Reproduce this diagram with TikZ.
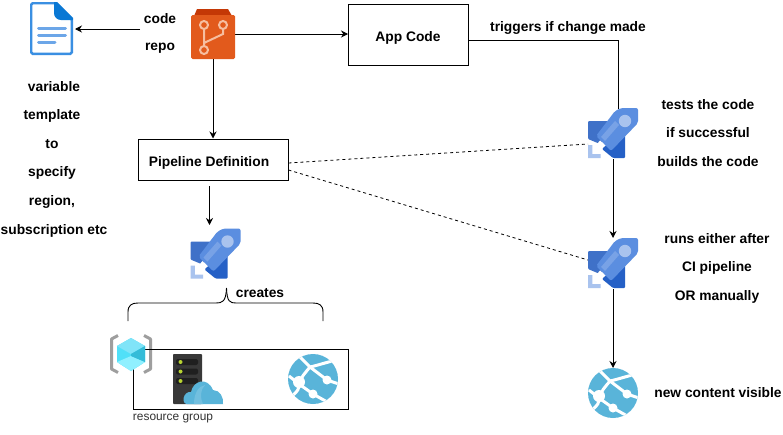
\documentclass[tikz,border=0pt]{standalone}
\usepackage{fontspec}
\setmainfont{Liberation Sans}
\usetikzlibrary{arrows.meta}
\definecolor{glb}{HTML}{59B4D9}
\definecolor{rkA}{HTML}{3F71C8}
\definecolor{rkB}{HTML}{5B8EE0}
\definecolor{rkC}{HTML}{2560C6}
\definecolor{rkD}{HTML}{A9C3EE}
\definecolor{rkE}{HTML}{78A2E6}
\definecolor{docA}{HTML}{3A8FE2}
\definecolor{docB}{HTML}{0A78D4}
\definecolor{docC}{HTML}{6CA6E8}
\definecolor{rpA}{HTML}{C43806}
\definecolor{rpB}{HTML}{E25A1C}
\definecolor{rpC}{HTML}{F6BEA0}
\definecolor{srvG}{HTML}{B8D432}
\definecolor{cbA}{HTML}{50E0F8}
\definecolor{cbB}{HTML}{80E4F8}
\definecolor{cbC}{HTML}{35BCD8}
\definecolor{cbD}{HTML}{90F0FF}
\tikzset{
  txt/.style={font=\fontsize{13.8}{16}\selectfont\bfseries,inner sep=0pt,text=black,yshift=-0.8pt},
  smalltxt/.style={font=\fontsize{11.9}{14}\selectfont,inner sep=0pt,text=black!80},
  boxn/.style={draw=black,line width=1pt,fill=white,inner sep=0pt},
  icon/.style={inner sep=0pt,outer sep=0pt},
  conn/.style={draw=black,line width=1pt},
  arr/.style={conn,-{Stealth[length=7pt,width=7pt]}},
  dash2/.style={draw=black,line width=0.8pt,dash pattern=on 3pt off 3pt},
}
\newcommand{\rocketicon}[1]{%
  \begin{scope}[shift={(#1.north west)}]
    \fill[rkA,rounded corners=1pt] (0,13) -- (30,13) -- (12,36) -- (0,31) -- cycle;
    \fill[rkC,rounded corners=1pt] (37,20) -- (37,50) -- (25,50) -- (14,41) -- cycle;
    \fill[rkB,rounded corners=2pt] (50,0) -- (50,15) -- (23,43) -- (8,28) -- (27,3) -- (33,0) -- cycle;
    \fill[rkE] (27,13) -- (31,17) -- (17,33) -- (13,29) -- cycle;
    \fill[rkD] (37,13) circle (6.2);
    \fill[rkD] (0,37) -- (4.3,37) -- (4.3,46) -- (12.5,46) -- (12.5,50) -- (0,50) -- cycle;
    \fill[white] (9,36) -- (12,32.5) -- (15.5,36) -- (12.5,39.5) -- cycle;
  \end{scope}}
\newcommand{\globeicon}[1]{%
  \begin{scope}[shift={(#1.center)}]
    \fill[glb] (0,0) circle (25);
    \begin{scope}
      \clip (0,0) circle (25);
      \draw[white,line width=3pt] (-17,-26) -- (-3,-12) .. controls (6,-14) and (14,-17) .. (24,-19);
      \draw[white,line width=3pt] (-3,-12) .. controls (-8,-6) and (-12,-2) .. (-14,5) -- (-24,-3);
      \draw[white,line width=3pt] (-3,-12) -- (14,1) -- (26,5);
      \draw[white,line width=3pt] (-14,5) .. controls (-14,10) and (-15,12) .. (-21,17);
      \draw[white,line width=3pt] (-14,5) -- (0,15) -- (16,24);
      \fill[white] (14,1) circle (4.5) (0,15) circle (4.5) (-14,3) circle (6);
    \end{scope}
  \end{scope}}
\begin{document}
\begin{tikzpicture}[x=1pt,y=-1pt]
\useasboundingbox (0,0) rectangle (783,434);
\fill[white] (0,0) rectangle (783,434);
% nodes
\node[icon,minimum width=43pt,minimum height=53pt] (doc) at (51.5,28.5) {};
\node[icon,minimum width=44pt,minimum height=50pt] (repo) at (213,34) {};
\node[boxn,minimum width=120pt,minimum height=61pt] (app) at (408.5,34.5) {};
\node[boxn,minimum width=150pt,minimum height=41pt] (pipe) at (213,159.5) {};
\node[icon,minimum width=50pt,minimum height=51pt] (r1) at (215.5,254) {};
\node[icon,minimum width=50pt,minimum height=51pt] (r2) at (613,133.5) {};
\node[icon,minimum width=50pt,minimum height=51pt] (r3) at (613,263.5) {};
\node[icon,minimum width=50pt,minimum height=50pt] (g1) at (313,379) {};
\node[icon,minimum width=50pt,minimum height=50pt] (g2) at (613,393) {};
\node[icon,minimum width=50pt,minimum height=50pt] (srv) at (198,379) {};
\node[icon,minimum width=42pt,minimum height=40pt] (rgi) at (131,354) {};
\coordinate (repoL) at (140,29);
\coordinate (pipeD) at (209.5,186);
\coordinate (r1T) at (209.5,225);
% resource group icon brackets, box, cube
\begin{scope}[shift={(rgi.north west)}]
  \draw[black!38,line width=3pt,line join=round] (8,1.5) -- (1.5,5) -- (1.5,35) -- (8,38.5);
  \draw[black!38,line width=3pt,line join=round] (34,1.5) -- (40.5,5) -- (40.5,35) -- (34,38.5);
\end{scope}
\node[draw=black,line width=1pt,inner sep=0pt,minimum width=215pt,minimum height=60pt] (rg) at (241,379.5) {};
\begin{scope}[shift={(rgi.north west)}]
  \fill[cbA] (21,4) -- (35,12) -- (35,28) -- (21,37) -- (7,28) -- (7,12) -- cycle;
  \fill[cbB] (21,4) -- (35,12) -- (21,20) -- (7,12) -- cycle;
  \fill[cbD] (21,22) -- (35,28) -- (21,37) -- (7,28) -- cycle;
  \fill[cbC] (35,12) -- (35,28) -- (21,22) -- (21,20) -- cycle;
\end{scope}
% connectors
\draw[arr,shorten >=2pt] (repoL) -- (doc.east |- repoL);
\draw[arr] (repo.east) -- (app.west |- repo.east);
\draw[arr] (repo.south) -- (pipe.north);
\draw[arr] (pipeD) -- (r1T);
\draw[conn] (app.east |- 0,40) -- (618,40) -- (618,109);
\draw[arr] (r2.south) -- (r3.north);
\draw[arr] (r3.south) -- (g2.north);
\draw[dash2] (pipe.east |- 0,163) -- (r2.west |- 0,144);
\draw[dash2] (pipe.east |- 0,170) -- (r3.west |- 0,260);
% brace
\draw[line width=0.9pt] (128,321) -- (128,312) .. controls (128,305) and (132,303) .. (138,303) -- (216,303) .. controls (222,303) and (226,302) .. (226.5,288);
\draw[line width=0.9pt] (323,321) -- (323,312) .. controls (323,305) and (319,303) .. (313,303) -- (236,303) .. controls (230,303) and (227,302) .. (226.5,288);
% document icon
\begin{scope}[shift={(doc.north west)}]
  \draw[docA,fill=white,line width=2.4pt,rounded corners=1.5pt] (1.2,1.2) -- (26,1.2) -- (41.8,17) -- (41.8,51.8) -- (1.2,51.8) -- cycle;
  \fill[docB] (24,0) -- (27,0) -- (43,16) -- (43,18) -- (31,18) .. controls (27,18) and (24,15) .. (24,11) -- cycle;
  \draw[docC,line width=3pt,line cap=round] (8.5,26.7) -- (35.5,26.7) (8.5,33.7) -- (35.5,33.7) (8.5,40.7) -- (25,40.7);
\end{scope}
% repo icon
\begin{scope}[shift={(repo.north west)}]
  \fill[rpA] (6,0) -- (37,0) -- (41,7) -- (3,7) -- cycle;
  \fill[rpB,rounded corners=1.5pt] (0,6) rectangle (44,50);
  \draw[rpC,line width=2pt] (13,20) -- (13,40) (32,20) -- (32,25) -- (13,34);
  \draw[rpC,line width=2pt,fill=rpB] (13,16) circle (4) (32,16) circle (4) (13,41) circle (4);
\end{scope}
\rocketicon{r1}
\rocketicon{r2}
\rocketicon{r3}
\globeicon{g1}
\globeicon{g2}
% server icon
\begin{scope}[shift={(srv.north west)}]
  \fill[black!78,rounded corners=0.8pt] (0,0) rectangle (29,50);
  \foreach \yy in {8,17.5,27}{
    \fill[black!88,rounded corners=2pt] (3,\yy-3) rectangle (25,\yy+3);
    \fill[srvG] (7.5,\yy) circle (2);
  }
  \fill[glb] (14,50) .. controls (8,50) and (10,37) .. (18,38) .. controls (20,27) and (34,22) .. (40,36) .. controls (47,36) and (51,44) .. (50,50) -- cycle;
  \fill[glb!85!white] (21,50) .. controls (21,40) and (25,32) .. (32,31) .. controls (27,36) and (27,44) .. (30,50) -- cycle;
\end{scope}
% labels
\node[txt] (t1) at (160,18) {code};
\node[txt] (t2) at (160,47) {repo};
\node[txt] (t3) at (54,86) {variable};
\node[txt] (t4) at (52,115) {template};
\node[txt] (t5) at (52,143) {to};
\node[txt] (t6) at (52,172) {specify};
\node[txt] (t7) at (52,201) {region,};
\node[txt] (t8) at (54,230) {subscription etc};
\node[txt] (t9) at (408,37) {App Code};
\node[txt] (t10) at (568,27) {triggers if change made};
\node[txt] (t11) at (209,162) {Pipeline Definition};
\node[txt] (t12) at (708,104) {tests the code};
\node[txt] (t13) at (708,132) {if successful};
\node[txt] (t14) at (708,161) {builds the code};
\node[txt] (t15) at (717,238) {runs either after};
\node[txt] (t16) at (717,267) {CI pipeline};
\node[txt] (t17) at (717,296) {OR manually};
\node[txt] (t18) at (718,392) {new content visible};
\node[txt] (t19) at (260,292) {creates};
\node[smalltxt] (t20) at (173,419) {resource group};
\end{tikzpicture}
\end{document}
